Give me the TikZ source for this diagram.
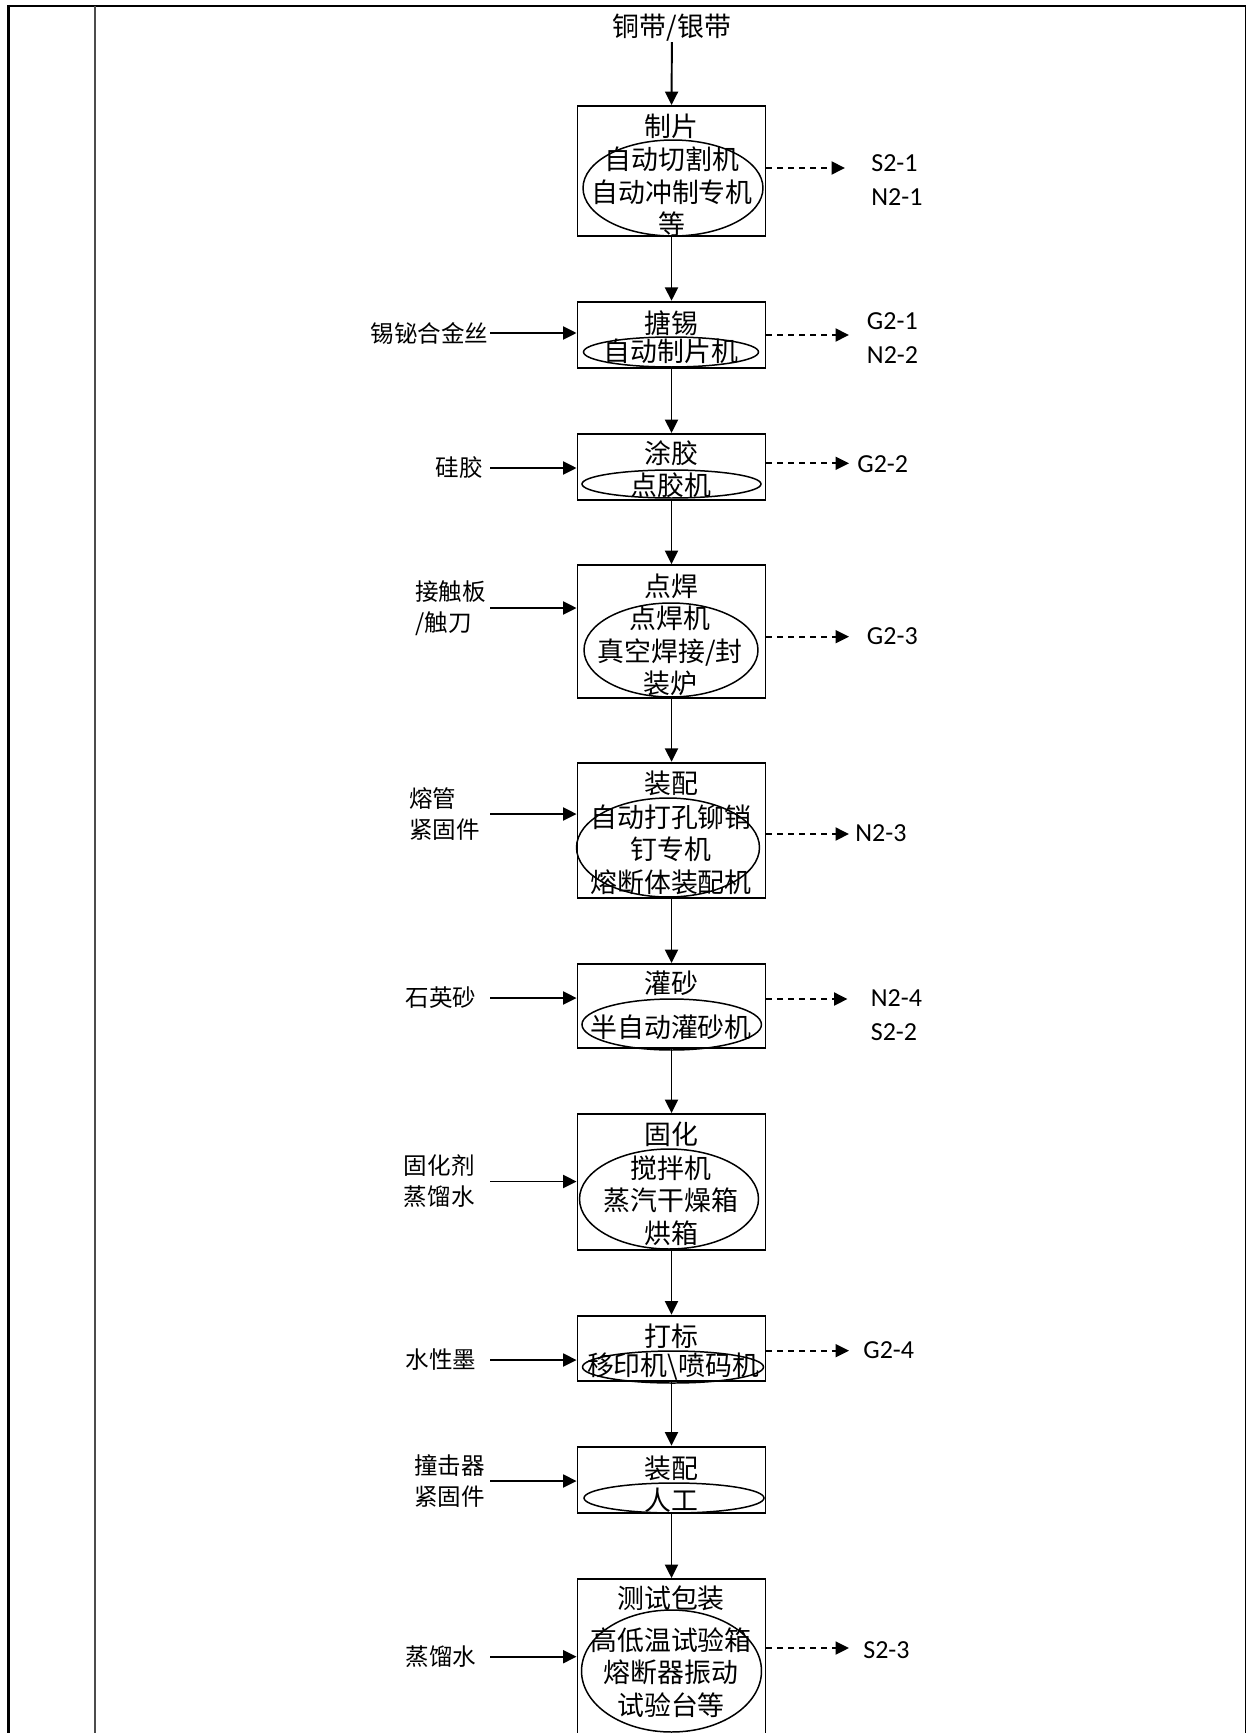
\documentclass[tikz,border=0pt]{standalone}
\usepackage{fontspec}
\usepackage{tikz}
\usetikzlibrary{arrows.meta, shapes.geometric, positioning}

\newfontfamily\cjk{Noto Sans CJK SC}
\newfontfamily\latin{Carlito}

\begin{document}
\begin{tikzpicture}[x=0.02cm, y=-0.02cm, >={Triangle[length=0.27cm, width=0.26cm]},
    procbox/.style={draw, line width=1.1pt, minimum width=3.76cm, inner sep=0pt},
    machine/.style={ellipse, draw, line width=0.85pt, inner sep=0pt},
    ttl/.style={inner sep=0pt, font=\cjk\fontsize{15.3}{18.4}\selectfont},
    mtxt/.style={inner sep=0pt, align=center, font=\cjk\fontsize{15.3}{18.4}\selectfont},
    mat/.style={inner sep=0pt, align=left, font=\cjk\fontsize{13.4}{17.6}\selectfont},
    outlbl/.style={inner sep=0pt, align=left, anchor=west, font=\latin\fontsize{14.8}{19}\selectfont},
    flow/.style={->, line width=1.1pt},
    waste/.style={->, line width=1.1pt, dash pattern=on 0.12cm off 0.1cm}]

    \useasboundingbox (0,0) rectangle (1247,1733);

    % =================================================================
    % 1. 表格边框
    % =================================================================
    \draw[line width=1.7pt] (8.7,5) -- (8.7,1733);
    \draw[line width=0.75pt] (8,6) -- (1246,6);
    \draw[line width=0.6pt, black!70] (95,6) -- (95,1733);
    \draw[line width=1.1pt] (1245.5,6) -- (1245.5,1733);

    % =================================================================
    % 2. 工序方框与设备椭圆
    % =================================================================
    \node[procbox, minimum height=2.6cm]  (b1)  at (671.5,171)    {};
    \node[procbox, minimum height=1.33cm] (b2)  at (671.5,335)    {};
    \node[procbox, minimum height=1.32cm] (b3)  at (671.5,467)    {};
    \node[procbox, minimum height=2.65cm] (b4)  at (671.5,631.3)  {};
    \node[procbox, minimum height=2.71cm] (b5)  at (671.5,830.5)  {};
    \node[procbox, minimum height=1.68cm] (b6)  at (671.5,1006)   {};
    \node[procbox, minimum height=2.72cm] (b7)  at (671.5,1182)   {};
    \node[procbox, minimum height=1.31cm] (b8)  at (671.5,1348.3) {};
    \node[procbox, minimum height=1.33cm] (b9)  at (671.5,1479.8) {};
    \node[procbox, minimum height=3.32cm] (b10) at (671.5,1662)   {};

    \node[machine, minimum width=3.6cm,  minimum height=1.92cm] (e1)  at (673,188)    {};
    \node[machine, minimum width=3.5cm,  minimum height=0.6cm]  (e2)  at (671,352)    {};
    \node[machine, minimum width=3.58cm, minimum height=0.56cm] (e3)  at (671.5,484)  {};
    \node[machine, minimum width=3.48cm, minimum height=1.88cm] (e4)  at (671,650)    {};
    \node[machine, minimum width=3.66cm, minimum height=1.98cm] (e5)  at (668,847.5)  {};
    \node[machine, minimum width=3.59cm, minimum height=1.02cm] (e6)  at (671.7,1024.5) {};
    \node[machine, minimum width=3.58cm, minimum height=2.0cm]  (e7)  at (669,1199)   {};
    \node[machine, minimum width=3.62cm, minimum height=0.64cm] (e8)  at (673,1367)   {};
    \node[machine, minimum width=3.6cm,  minimum height=0.6cm]  (e9)  at (674,1498)   {};
    \node[machine, minimum width=3.6cm,  minimum height=2.44cm] (e10) at (671.5,1671) {};

    % 工序名称
    \node[ttl] (t1)  at (671,126.7)  {制片};
    \node[ttl] (t2)  at (671,322.7)  {搪锡};
    \node[ttl] (t3)  at (671,453)    {涂胶};
    \node[ttl] (t4)  at (671,586.7)  {点焊};
    \node[ttl] (t5)  at (671,783)    {装配};
    \node[ttl] (t6)  at (671,983)    {灌砂};
    \node[ttl] (t7)  at (671,1134)   {固化};
    \node[ttl] (t8)  at (671,1336.7) {打标};
    \node[ttl] (t9)  at (671,1468)   {装配};
    \node[ttl] (t10) at (671,1598)   {测试包装};

    % 设备
    \node[mtxt] (m1)  at (672,192)    {自动切割机\\自动冲制专机\\等};
    \node[mtxt] (m2)  at (671,351.7)  {自动制片机};
    \node[mtxt] (m3)  at (671,485)    {点胶机};
    \node[mtxt] (m4)  at (670,651)    {点焊机\\真空焊接/封\\装炉};
    \node[mtxt] (m5)  at (671,849.5)  {自动打孔铆销\\钉专机\\熔断体装配机};
    \node[mtxt] (m6)  at (671,1027)   {半自动灌砂机};
    \node[mtxt] (m7)  at (671,1200.5) {搅拌机\\蒸汽干燥箱\\烘箱};
    \node[mtxt] (m8)  at (673,1367)   {移印机\textbackslash 喷码机};
    \node[mtxt] (m9)  at (671,1500)   {人工};
    \node[mtxt] (m10) at (671,1672.5) {高低温试验箱\\熔断器振动\\试验台等};

    % =================================================================
    % 3. 主流程箭头
    % =================================================================
    \node[ttl] (src) at (672,28) {铜带/银带};
    \draw[flow] (src) -- (b1.north);
    \foreach \i/\j in {1/2, 2/3, 3/4, 4/5, 5/6, 6/7, 7/8, 8/9, 9/10}
        \draw[flow] (b\i.south) -- (b\j.north);

    % =================================================================
    % 4. 原辅料输入
    % =================================================================
    \coordinate (inx) at (490,0);
    \node[mat] (in2) at (429.5,333) {锡铋合金丝};
    \node[mat] (in3) at (459,468) {硅胶};
    \node[mat, anchor=west] (in4) at (415,608) {接触板\\/触刀};
    \node[mat, anchor=west] (in5) at (409,814) {熔管\\紧固件};
    \node[mat] (in6) at (441,998) {石英砂};
    \node[mat, anchor=west] (in7) at (403.6,1181.5) {固化剂\\蒸馏水};
    \node[mat] (in8) at (441,1360) {水性墨};
    \node[mat, anchor=west] (in9) at (414,1481) {撞击器\\紧固件};
    \node[mat] (in10) at (441,1656.7) {蒸馏水};
    \foreach \k in {2,...,10}
        \draw[flow] (in\k.east -| inx) -- (in\k.east -| b\k.west);

    % =================================================================
    % 5. 污染物产生（虚线）
    % =================================================================
    \coordinate (o1)  at (845,168);
    \coordinate (o2)  at (849,335);
    \coordinate (o3)  at (849,463.3);
    \coordinate (o4)  at (849,636.7);
    \coordinate (o5)  at (849,834);
    \coordinate (o6)  at (847.5,999);
    \coordinate (o8)  at (849,1350.7);
    \coordinate (o10) at (849,1648);
    \foreach \k in {1,2,3,4,5,6,8,10}
        \draw[waste] (o\k -| b\k.east) -- (o\k);

    \node[outlbl] (w1)  at (871,180)    {S2-1\\N2-1};
    \node[outlbl] (w2)  at (866.6,338)  {G2-1\\N2-2};
    \node[outlbl] (w3)  at (857,464)    {G2-2};
    \node[outlbl] (w4)  at (866.6,635.7) {G2-3};
    \node[outlbl] (w5)  at (855,833)    {N2-3};
    \node[outlbl] (w6)  at (870.5,1015) {N2-4\\S2-2};
    \node[outlbl] (w8)  at (863,1350)   {G2-4};
    \node[outlbl] (w10) at (863,1650)   {S2-3};

\end{tikzpicture}
\end{document}
